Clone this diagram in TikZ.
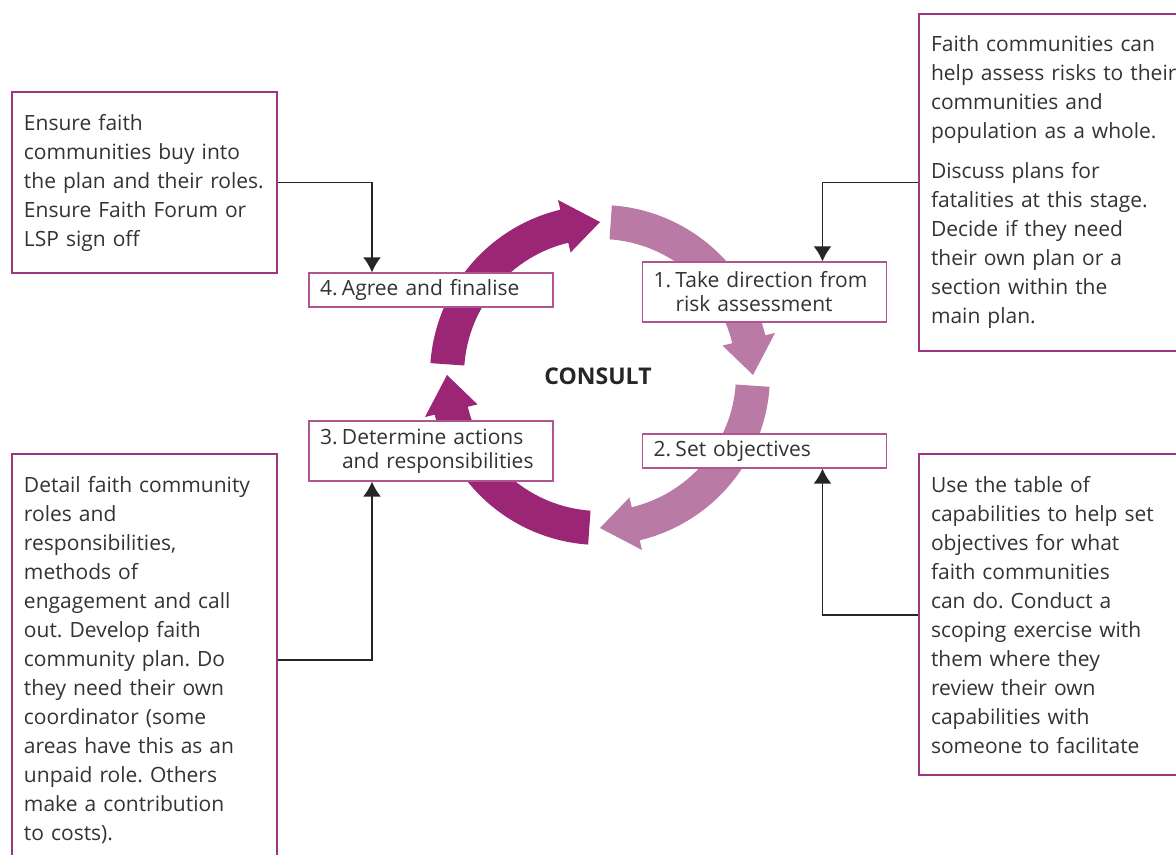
\documentclass[tikz,border=0pt]{standalone}
\usepackage{fontspec}
\setmainfont{Open Sans}
\usetikzlibrary{calc,arrows.meta}
\definecolor{ringdark}{HTML}{9B2676}
\definecolor{ringlight}{HTML}{BA7AA6}
\definecolor{boxline}{HTML}{A0357F}
\definecolor{stepline}{HTML}{B0558F}
\definecolor{inkgray}{HTML}{333333}
\newcommand{\stepnum}[1]{\makebox[11pt][l]{#1}}
\frenchspacing

\begin{document}
\begin{tikzpicture}[x=0.5pt,y=0.5pt,>={Latex[length=7.5pt,width=9pt]},
  note/.style={draw=boxline,line width=1pt,text=inkgray,align=left,anchor=north west,
    text width=120.5pt,inner xsep=6pt,inner ysep=11pt,font=\fontsize{10.5}{14.5}\selectfont},
  stepbox/.style={draw=stepline,line width=0.6pt,fill=white,text=inkgray,align=left,
    text width=111pt,inner xsep=5.5pt,inner ysep=0pt,font=\fontsize{10.5}{12}\selectfont},
  link/.style={->,draw=black!85,line width=0.9pt}]

\useasboundingbox (0,0) rectangle (1176,855);

%cycle
\begin{scope}[shift={(600,480)}]
\foreach \a/\col in {90/ringlight,0/ringlight,-90/ringdark,180/ringdark}
  \fill[\col] ({\a-4}:170) arc[start angle=\a-4,end angle=\a-76.5,radius=170]
    -- ({\a-76.5}:180) -- ({\a-90}:153) -- ({\a-76.5}:126) -- ({\a-76.5}:136)
    arc[start angle=\a-76.5,end angle=\a-4,radius=136] -- cycle;
\end{scope}

\node[font=\bfseries\fontsize{11.5}{14}\selectfont,text=black!85] (consult) at (598,479) {CONSULT};

%steps
\node[stepbox,minimum height=17pt] (agree) at (431,565) {\stepnum{4.}Agree and finalise};
\node[stepbox,minimum height=30pt] (take) at (764.5,563) {\stepnum{1.}Take direction from\\\hspace*{11pt}risk assessment};
\node[stepbox,minimum height=30pt] (actions) at (431,404) {\stepnum{3.}Determine actions\\\hspace*{11pt}and responsibilities};
\node[stepbox,minimum height=17pt] (objectives) at (764.5,404) {\stepnum{2.}Set objectives};

%notes
\node[note] (ensure) at (11,764) {Ensure faith\\communities buy into\\\mbox{the plan and their roles.}\\Ensure Faith Forum or\\LSP sign off};
\node[note,text width=125pt] (assess) at (918,842) {Faith communities can\\help assess risks to their\\communities and\\population as a whole.\\[5.5pt]Discuss plans for\\fatalities at this stage.\\Decide if they need\\their own plan or a\\section within the\\main plan.};
\node[note] (detail) at (11,402) {Detail faith community\\roles and\\responsibilities,\\methods of\\engagement and call\\out. Develop faith\\community plan. Do\\they need their own\\coordinator (some\\areas have this as an\\unpaid role. Others\\make a contribution\\to costs).};
\node[note,text width=125pt] (capab) at (918,402) {Use the table of\\capabilities to help set\\objectives for what\\faith communities\\can do. Conduct a\\scoping exercise with\\them where they\\review their own\\capabilities with\\someone to facilitate};

\draw[link] (ensure.east) -| ([xshift=-29.5pt]agree.north);
\draw[link] (assess.west) -| ([xshift=29pt]take.north);
\draw[link] (detail.east) -| ([xshift=-29.5pt]actions.south);
\draw[link] (capab.west) -| ([xshift=29pt]objectives.south);

\end{tikzpicture}
\end{document}
